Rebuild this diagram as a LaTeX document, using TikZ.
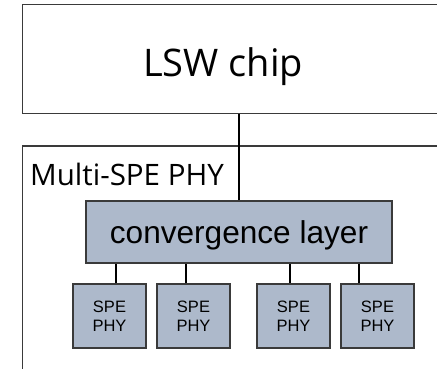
\documentclass[tikz,border=0pt]{standalone}
\usepackage{fontspec}
\setmainfont{Open Sans}
\newfontfamily\arialfont{Liberation Sans}
\usetikzlibrary{calc}

\definecolor{blockfill}{HTML}{ADB9CB}
\definecolor{edge}{HTML}{3A3A3A}

\begin{document}
\begin{tikzpicture}[x=1pt, y=-1pt,
    frame/.style={draw=edge, line width=1.1pt, fill=white, anchor=north west, inner sep=0pt},
    block/.style={draw=edge, line width=1.1pt, fill=blockfill, inner sep=0pt, align=center},
    bigtext/.style={inner sep=0pt, anchor=base},
    phytext/.style={font=\arialfont\fontsize{16.5}{18.5}\selectfont},
    link/.style={draw=black, line width=1.1pt},
  ]
  \useasboundingbox (0,0) rectangle (437,369);
  \clip (0,0) rectangle (437,369);

  % ---------------- the two outer frames (run off the page) ----------------
  \node[frame, minimum width=440pt, minimum height=109pt] (lsw) at (22,4) {};
  \node[bigtext, font=\fontsize{38}{42}\selectfont] (lswtext) at (223,76.5) {LSW chip};

  \node[frame, minimum width=440pt, minimum height=240pt] (multi) at (22,145.5) {};
  \node[bigtext, anchor=base west, font=\fontsize{29.5}{33}\selectfont] (multitext) at (30,185.5) {Multi-SPE PHY};

  % ---------------- convergence layer --------------------------------------
  \node[block, minimum width=306pt, minimum height=62pt, text height=23pt, text depth=1pt,
        font=\arialfont\fontsize{31.6}{35}\selectfont] (conv) at (239,232) {convergence layer};

  % ---------------- the four SPE PHYs --------------------------------------
  \foreach \i/\px in {1/109.5, 2/193.5, 3/293.5, 4/377.5}
    \node[block, minimum width=73pt, minimum height=64pt, phytext] (spe\i) at (\px,316) {SPE\\PHY};

  % ---------------- links --------------------------------------------------
  \draw[link] (conv.north) -- (conv.north |- lsw.south);
  \foreach \i/\dx in {1/6.5, 2/-7.5, 3/-3.5, 4/-18.5}
    \draw[link] ([xshift=\dx pt]spe\i.north) -- ([xshift=\dx pt]spe\i.north |- conv.south);

\end{tikzpicture}
\end{document}
